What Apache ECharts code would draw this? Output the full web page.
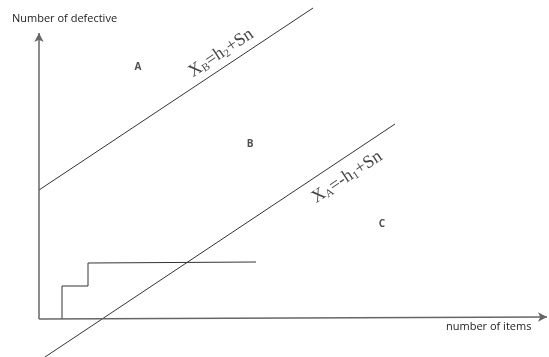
<!DOCTYPE html>
<html>
<head>
<meta charset="utf-8">
<script src="https://cdn.jsdelivr.net/npm/echarts@6/dist/echarts.min.js"></script>
<style>
  html, body { margin: 0; padding: 0; background: #fff; }
  #chart { width: 549px; height: 357px; }
</style>
</head>
<body>
<div id="chart"></div>
<script>
// axes: origin at (0,0), arrow tips
const yAxisTip = [0, 286]
const xAxisTip = [508, 2]
// decision lines, endpoints
const lineB = [[0, 129], [274, 311]]   // X_B = h2 + Sn
const lineA = [[0, -42], [356, 195]]   // X_A = -h1 + Sn
// cumulative defectives (step path)
const stepPath = [[23, 0], [23, 33], [49, 33], [49, 56], [217, 57]]
// text
const regionNames = ['A', 'B', 'C']
const regionPos = [[99, 252], [211, 175], [343, 95]]
const formulaPos = [[182, 266], [308, 142]]

const myChart = echarts.init(document.getElementById('chart'))

const formulaRich = {
  m: { fontSize: 18, fontFamily: 'Liberation Serif', color: '#111' },
  s: { fontSize: 11, fontFamily: 'Liberation Serif', color: '#111', padding: [8, 0, 0, 0] },
}

const option = {
  animation: false,
  title: [
    { text: 'Number of defective', left: 7, top: 8, textStyle: { fontSize: 11, fontWeight: 'normal', fontFamily: 'Open Sans', color: '#222' } },
    { text: 'number of items', left: 441, top: 316, textStyle: { fontSize: 11, fontWeight: 'normal', fontFamily: 'Open Sans', color: '#222' } },
  ],
  grid: { left: 0, right: 0, top: 0, bottom: 0 },
  xAxis: { type: 'value', min: -39, max: 510, show: false },
  yAxis: { type: 'value', min: -38, max: 319, show: false },
  series: [
    {
      type: 'line',
      data: [],
      markLine: {
        silent: true,
        symbol: ['none', 'arrow'],
        symbolSize: [7, 9],
        label: { show: false },
        lineStyle: { color: '#666', width: 1.5, type: 'solid' },
        data: [
          [{ coord: [0, 0] }, { coord: yAxisTip }],
          [{ coord: [0, 0] }, { coord: xAxisTip }],
        ],
      },
    },
    { type: 'line', data: lineB, symbol: 'none', lineStyle: { color: '#333', width: 1 } },
    { type: 'line', data: lineA, symbol: 'none', lineStyle: { color: '#333', width: 1 } },
    { type: 'line', data: stepPath, symbol: 'none', lineStyle: { color: '#333', width: 1 } },
    {
      type: 'scatter',
      symbolSize: 0,
      data: regionPos.map((p, i) => ({ value: p, name: regionNames[i] })),
      label: {
        show: true, position: 'inside', formatter: '{b}',
        fontSize: 10, fontWeight: 'bold', fontFamily: 'Open Sans', color: '#222',
      },
    },
    {
      type: 'scatter',
      symbolSize: 0,
      data: [
        { value: formulaPos[0], label: { formatter: '{m|X}{s|B}{m|=h}{s|2}{m|+Sn}' } },
        { value: formulaPos[1], label: { formatter: '{m|X}{s|A}{m|=-h}{s|1}{m|+Sn}' } },
      ],
      label: { show: true, position: 'inside', rotate: 33.5, rich: formulaRich },
    },
  ],
}

myChart.setOption(option)
</script>
</body>
</html>
